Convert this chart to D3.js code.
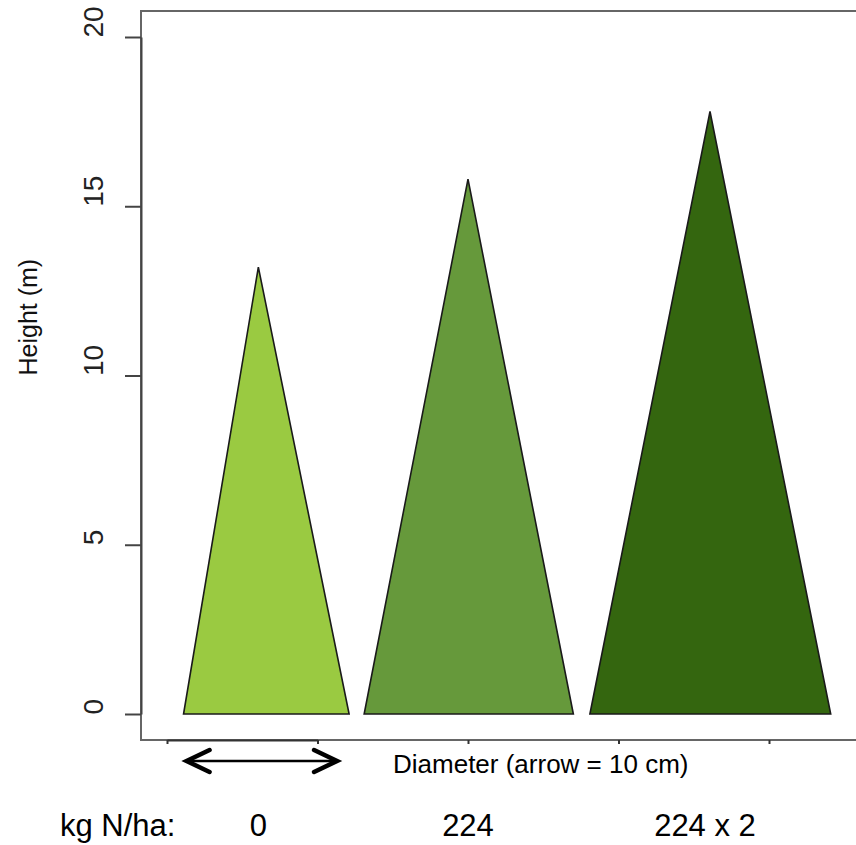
<!DOCTYPE html>
<html>
<head>
<meta charset="utf-8">
<script src="https://cdn.jsdelivr.net/npm/d3@7"></script>
<style>
  html, body { margin: 0; padding: 0; background: #fff; }
  svg { display: block; font-family: "Liberation Sans", Arial, Helvetica, sans-serif; }
</style>
</head>
<body>
<div id="chart"></div>
<script>
// Tree profiles under three nitrogen rates (diameter in cm, height in m)
const treatments = ["0", "224", "224 x 2"];
const baseLeft   = [1.1, 13.1, 28.1];   // cm
const baseRight  = [12.1, 27.0, 44.1];  // cm
const apexX      = [6.07, 20.0, 36.08]; // cm
const heights    = [13.2, 15.8, 17.8];  // m
const fills      = ["#9aca41", "#66993b", "#34660f"];

const yTicks = [0, 5, 10, 15, 20];
const xTicks = [0, 10, 20, 30, 40];
const arrowSpan = [1.3, 11.3]; // 10 cm reference arrow

const W = 856, H = 845;
const box = { left: 141, top: 11, bottom: 740, right: 880 };

const x = d3.scaleLinear().domain([0, 10]).range([167, 317.5]);
const y = d3.scaleLinear().domain([0, 20]).range([714, 37]);

const svg = d3.select("#chart").append("svg")
  .attr("width", W).attr("height", H);

// plot frame
svg.append("rect")
  .attr("x", box.left).attr("y", box.top)
  .attr("width", box.right - box.left).attr("height", box.bottom - box.top)
  .attr("fill", "none").attr("stroke", "#666").attr("stroke-width", 2);

// trees
const trees = treatments.map((t, i) => ({
  t, pts: [[baseLeft[i], 0], [apexX[i], heights[i]], [baseRight[i], 0]], fill: fills[i]
}));
svg.append("g").selectAll("path").data(trees).join("path")
  .attr("d", d => d3.line().x(p => x(p[0])).y(p => y(p[1]))(d.pts) + "Z")
  .attr("fill", d => d.fill)
  .attr("stroke", "#1a1a1a").attr("stroke-width", 1.6)
  .attr("stroke-linejoin", "miter");

// y axis
const yAxis = svg.append("g")
  .attr("transform", `translate(${box.left},0)`)
  .call(d3.axisLeft(y).tickValues(yTicks).tickSize(16).tickSizeOuter(0));
yAxis.select(".domain").attr("stroke", "#444").attr("stroke-width", 2);
yAxis.selectAll(".tick line").attr("stroke", "#444").attr("stroke-width", 2);
yAxis.selectAll(".tick text")
  .attr("x", null).attr("dy", null)
  .attr("transform", "translate(-38,0) rotate(-90)")
  .attr("text-anchor", "start")
  .attr("font-size", 28).attr("fill", "#222")
  .attr("font-family", "Liberation Sans, Arial, sans-serif");

// x axis (unlabelled ticks)
const xAxis = svg.append("g")
  .attr("transform", `translate(0,${box.bottom})`)
  .call(d3.axisBottom(x).tickValues(xTicks).tickSize(4).tickSizeOuter(0).tickFormat(""));
xAxis.select(".domain").attr("stroke", "#333").attr("stroke-width", 2);
xAxis.selectAll(".tick line").attr("stroke", "#333").attr("stroke-width", 2);

// y axis title
svg.append("text")
  .attr("transform", `translate(37,${(box.top + box.bottom) / 2}) rotate(-90)`)
  .attr("text-anchor", "start")
  .attr("font-size", 25).attr("fill", "#111")
  .text("Height (m)");

// 10 cm reference arrow
const ay = 761, head = 23, half = 11;
const ax0 = x(arrowSpan[0]), ax1 = x(arrowSpan[1]);
const ag = svg.append("g").attr("fill", "none").attr("stroke", "#000");
ag.append("line").attr("x1", ax0 + 2).attr("x2", ax1 - 2).attr("y1", ay).attr("y2", ay)
  .attr("stroke-width", 2.5);
ag.append("path")
  .attr("d", `M${ax0 + head},${ay - half} L${ax0},${ay} L${ax0 + head},${ay + half}`)
  .attr("stroke-width", 4.5).attr("stroke-linecap", "round").attr("stroke-linejoin", "miter");
ag.append("path")
  .attr("d", `M${ax1 - head},${ay - half} L${ax1},${ay} L${ax1 - head},${ay + half}`)
  .attr("stroke-width", 4.5).attr("stroke-linecap", "round").attr("stroke-linejoin", "miter");

svg.append("text")
  .attr("x", 393).attr("y", 773)
  .attr("font-size", 26).attr("fill", "#000")
  .text("Diameter (arrow = 10 cm)");

// nitrogen rate labels
svg.append("text")
  .attr("x", 60).attr("y", 836)
  .attr("font-size", 31).attr("fill", "#000")
  .text("kg N/ha:");
svg.append("g").selectAll("text").data(trees).join("text")
  .attr("x", (d, i) => x(apexX[i]) - (i === 2 ? 5 : 0))
  .attr("y", 836)
  .attr("text-anchor", "middle")
  .attr("font-size", 31).attr("fill", "#000")
  .text(d => d.t);
</script>
</body>
</html>
